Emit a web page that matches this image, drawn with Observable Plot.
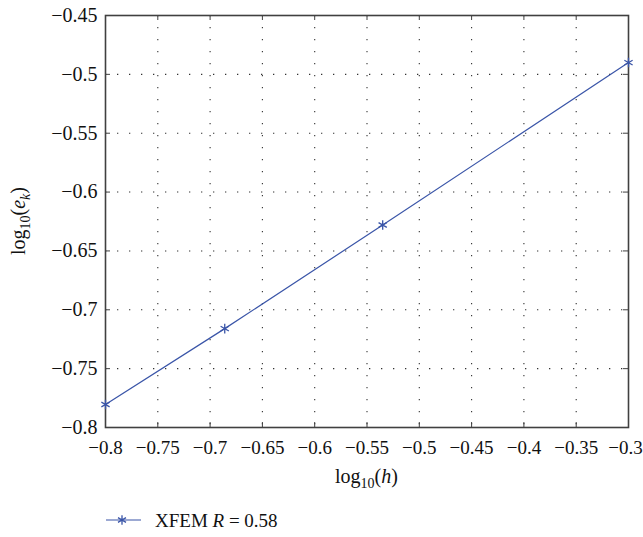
<!DOCTYPE html>
<html><head><meta charset="utf-8">
<script src="https://cdn.jsdelivr.net/npm/d3@7"></script>
<script src="https://cdn.jsdelivr.net/npm/@observablehq/plot@0.6"></script>
<style>
body{margin:0;background:#fff;}
</style>
</head><body><div id="chart"></div>
<script>
const hValues = [-0.8, -0.686, -0.535, -0.3];
const errValues = [-0.7805, -0.716, -0.628, -0.49];
const xTicks = [-0.8, -0.75, -0.7, -0.65, -0.6, -0.55, -0.5, -0.45, -0.4, -0.35, -0.3];
const yTicks = [-0.8, -0.75, -0.7, -0.65, -0.6, -0.55, -0.5, -0.45];
const seriesName = "XFEM";
const rValue = "0.58";

const data = hValues.map((h, i) => ({h, e: errValues[i]}));

const width = 643, height = 537;
const mL = 105, mR = 15, mT = 15, mB = 110;
const W = width - mL - mR, H = height - mT - mB;
const blue = "#3a55a8";
const axisColor = "#404040";
const FONT = '"Liberation Serif", "DejaVu Serif", serif';
const FS = 20;
const fmt = d => "\u2212" + String(Math.abs(d));

const plot = Plot.plot({
  width, height,
  marginLeft: mL, marginRight: mR, marginTop: mT, marginBottom: mB,
  x: {domain: [-0.8, -0.3]},
  y: {domain: [-0.8, -0.45]},
  marks: [
    Plot.ruleX(xTicks.slice(1, -1), {x: d => d, stroke: "#333", strokeDasharray: "1.3,10.7", strokeWidth: 1.1}),
    Plot.ruleY(yTicks.slice(1, -1), {y: d => d, stroke: "#333", strokeDasharray: "1.3,10.7", strokeWidth: 1.1}),
    Plot.tickX(xTicks, {x: d => d, insetTop: H - 5, stroke: axisColor}),
    Plot.tickX(xTicks, {x: d => d, insetBottom: H - 5, stroke: axisColor}),
    Plot.tickY(yTicks, {y: d => d, insetRight: W - 5, stroke: axisColor}),
    Plot.tickY(yTicks, {y: d => d, insetLeft: W - 5, stroke: axisColor}),
    Plot.frame({stroke: axisColor, strokeWidth: 1.6}),
    Plot.axisX(xTicks, {tickSize: 0, tickPadding: 13, label: null, tickFormat: fmt, fontSize: 19}),
    Plot.axisY(yTicks, {tickSize: 0, tickPadding: 8, label: null, tickFormat: fmt, fontSize: FS}),
    Plot.line(data, {x: "h", y: "e", stroke: blue, strokeWidth: 1.2}),
    Plot.dot(data, {x: "h", y: "e", symbol: "asterisk", r: 4.5, stroke: blue, strokeWidth: 1.3})
  ]
});

const svg = d3.select(plot);
svg.attr("font-family", FONT).style("font-family", FONT);
svg.selectAll("g[aria-label='y-axis tick label']").attr("font-size", FS).attr("fill", "#111");
const xLabels = svg.selectAll("g[aria-label='x-axis tick label']").attr("font-size", 19).attr("fill", "#111");
// keep the last x tick label inside the picture
const xl_nodes = xLabels.selectAll("text").nodes();
if (xl_nodes.length) d3.select(xl_nodes[xl_nodes.length - 1]).attr("dx", -3);

// x label
const xl = svg.append("text").attr("x", mL + W / 2).attr("y", 483).attr("text-anchor", "middle")
  .attr("font-size", FS).attr("fill", "#111");
xl.append("tspan").text("log");
xl.append("tspan").attr("font-size", 14).attr("dy", 5).text("10");
xl.append("tspan").attr("dy", -5).text("(");
xl.append("tspan").attr("font-style", "italic").text("h");
xl.append("tspan").text(")");
// y label
const yl = svg.append("text").attr("transform", `translate(25,${mT + H / 2}) rotate(-90)`)
  .attr("text-anchor", "middle").attr("font-size", FS).attr("fill", "#111");
yl.append("tspan").text("log");
yl.append("tspan").attr("font-size", 14).attr("dy", 5).text("10");
yl.append("tspan").attr("dy", -5).text("(");
yl.append("tspan").attr("font-style", "italic").text("e");
yl.append("tspan").attr("font-style", "italic").attr("font-size", 14).attr("dy", 5).text("k");
yl.append("tspan").attr("dy", -5).text(")");
// legend
const lg = svg.append("g").attr("transform", "translate(106,520)");
lg.append("line").attr("x1", 0).attr("x2", 35).attr("y1", 0).attr("y2", 0).attr("stroke", blue).attr("stroke-width", 1.2);
lg.append("path").attr("d", d3.symbol(d3.symbolAsterisk, 60)()).attr("transform", "translate(16,0)")
  .attr("stroke", blue).attr("stroke-width", 1.3).attr("fill", "none");
const lt = lg.append("text").attr("x", 49).attr("y", 6.5).attr("text-anchor", "start")
  .attr("font-size", 19).attr("fill", "#111");
lt.append("tspan").text(seriesName + " ");
lt.append("tspan").attr("font-style", "italic").text("R");
lt.append("tspan").text(" = " + rValue);

svg.selectAll("text").style("font-family", FONT).style("font-variant", "normal");

document.getElementById("chart").appendChild(plot);
</script>
</body></html>
